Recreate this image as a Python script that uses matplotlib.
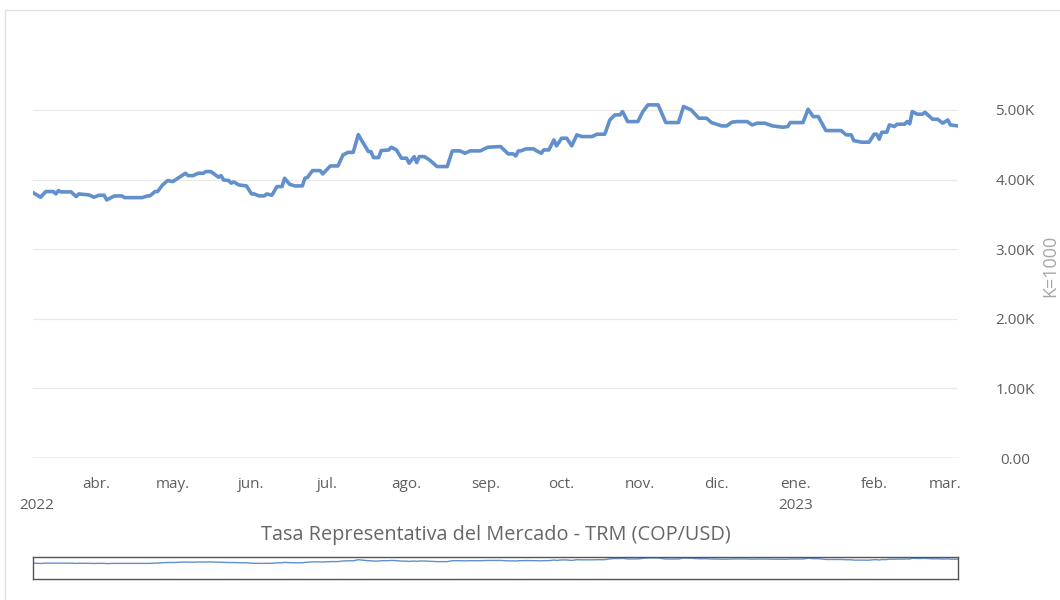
import matplotlib
matplotlib.use("Agg")
import matplotlib.pyplot as plt
import matplotlib.transforms as mtransforms
from matplotlib.lines import Line2D
import pandas as pd

plt.rcParams['font.family'] = ['Open Sans', 'DejaVu Sans']

# -----------------------------------------------------------------------------
# Data
# -----------------------------------------------------------------------------
dates = [
    "2022-03-07", "2022-03-10", "2022-03-12", "2022-03-15", "2022-03-16", "2022-03-17",
    "2022-03-18", "2022-03-22", "2022-03-24", "2022-03-25", "2022-03-29", "2022-03-31",
    "2022-04-02", "2022-04-04", "2022-04-05", "2022-04-08", "2022-04-11", "2022-04-12",
    "2022-04-19", "2022-04-21", "2022-04-22", "2022-04-24", "2022-04-25", "2022-04-27",
    "2022-04-29", "2022-05-01", "2022-05-03", "2022-05-06", "2022-05-07", "2022-05-09",
    "2022-05-11", "2022-05-13", "2022-05-14", "2022-05-16", "2022-05-19", "2022-05-20",
    "2022-05-21", "2022-05-23", "2022-05-24", "2022-05-25", "2022-05-27", "2022-05-30",
    "2022-06-01", "2022-06-02", "2022-06-04", "2022-06-06", "2022-06-07", "2022-06-09",
    "2022-06-11", "2022-06-13", "2022-06-14", "2022-06-16", "2022-06-18", "2022-06-21",
    "2022-06-22", "2022-06-23", "2022-06-25", "2022-06-28", "2022-06-29", "2022-07-02",
    "2022-07-05", "2022-07-07", "2022-07-09", "2022-07-11", "2022-07-13", "2022-07-15",
    "2022-07-17", "2022-07-18", "2022-07-19", "2022-07-21", "2022-07-22", "2022-07-25",
    "2022-07-26", "2022-07-28", "2022-07-30", "2022-08-01", "2022-08-02", "2022-08-04",
    "2022-08-05", "2022-08-06", "2022-08-08", "2022-08-10", "2022-08-13", "2022-08-17",
    "2022-08-19", "2022-08-22", "2022-08-24", "2022-08-26", "2022-08-30", "2022-09-02",
    "2022-09-07", "2022-09-10", "2022-09-12", "2022-09-13", "2022-09-14", "2022-09-15",
    "2022-09-17", "2022-09-20", "2022-09-21", "2022-09-23", "2022-09-24", "2022-09-26",
    "2022-09-28", "2022-09-29", "2022-10-01", "2022-10-03", "2022-10-05", "2022-10-07",
    "2022-10-09", "2022-10-13", "2022-10-15", "2022-10-18", "2022-10-20", "2022-10-22",
    "2022-10-24", "2022-10-25", "2022-10-27", "2022-10-31", "2022-11-02", "2022-11-04",
    "2022-11-08", "2022-11-11", "2022-11-16", "2022-11-18", "2022-11-21", "2022-11-24",
    "2022-11-27", "2022-11-29", "2022-12-03", "2022-12-05", "2022-12-07", "2022-12-09",
    "2022-12-13", "2022-12-15", "2022-12-17", "2022-12-20", "2022-12-23", "2022-12-27",
    "2022-12-29", "2022-12-30", "2023-01-04", "2023-01-06", "2023-01-08", "2023-01-10",
    "2023-01-13", "2023-01-19", "2023-01-21", "2023-01-23", "2023-01-24", "2023-01-27",
    "2023-01-30", "2023-02-01", "2023-02-02", "2023-02-03", "2023-02-04", "2023-02-06",
    "2023-02-07", "2023-02-09", "2023-02-10", "2023-02-13", "2023-02-14", "2023-02-15",
    "2023-02-16", "2023-02-18", "2023-02-20", "2023-02-21", "2023-02-24", "2023-02-26",
    "2023-02-28", "2023-03-02", "2023-03-03", "2023-03-06",
]
trm = [
    3812, 3745, 3827, 3827, 3793, 3841,
    3822, 3822, 3755, 3793, 3779, 3745,
    3774, 3774, 3707, 3764, 3764, 3740,
    3740, 3764, 3764, 3827, 3827, 3922,
    3985, 3970, 4018, 4090, 4056, 4056,
    4090, 4090, 4114, 4114, 4033, 4056,
    3994, 3985, 3947, 3966, 3922, 3908,
    3793, 3793, 3764, 3764, 3793, 3774,
    3898, 3898, 4018, 3932, 3908, 3908,
    4018, 4030, 4128, 4128, 4080, 4195,
    4195, 4353, 4390, 4390, 4645, 4521,
    4401, 4401, 4315, 4315, 4415, 4425,
    4464, 4425, 4306, 4306, 4234, 4329,
    4243, 4329, 4329, 4282, 4186, 4186,
    4411, 4411, 4377, 4411, 4411, 4464,
    4473, 4368, 4368, 4339, 4411, 4411,
    4440, 4440, 4415, 4377, 4425, 4425,
    4569, 4483, 4593, 4593, 4483, 4641,
    4617, 4617, 4651, 4651, 4856, 4928,
    4928, 4976, 4832, 4832, 4976, 5072,
    5072, 4818, 4818, 5048, 5000, 4881,
    4881, 4818, 4770, 4770, 4823, 4832,
    4832, 4784, 4809, 4809, 4770, 4751,
    4760, 4818, 4818, 5010, 4904, 4904,
    4703, 4703, 4641, 4641, 4559, 4536,
    4536, 4651, 4651, 4579, 4679, 4679,
    4784, 4761, 4794, 4794, 4832, 4800,
    4976, 4938, 4938, 4966, 4866, 4866,
    4809, 4856, 4784, 4770,
]
y_ticks = [0, 1000, 2000, 3000, 4000, 5000]
y_tick_labels = ["0.00", "1.00K", "2.00K", "3.00K", "4.00K", "5.00K"]
month_labels = ["abr.", "may.", "jun.", "jul.", "ago.", "sep.",
                "oct.", "nov.", "dic.", "ene.", "feb.", "mar."]
year_labels = ["2022", "2023"]
title = "Tasa Representativa del Mercado - TRM (COP/USD)"

x = pd.to_datetime(dates)

LINE = "#6190cc"
TICK = "#605e5c"
GRID = "#e9e9e9"
FS = 11

W, H = 1060, 600
fig = plt.figure(figsize=(W / 100, H / 100), dpi=100)

# -----------------------------------------------------------------------------
# Main plot
# -----------------------------------------------------------------------------
ax_l, ax_r, ax_b, ax_t = 33, 958, 458, 89
ax = fig.add_axes([ax_l / W, 1 - ax_b / H, (ax_r - ax_l) / W, (ax_b - ax_t) / H])
ax.plot(x, trm, color=LINE, lw=2.6, solid_joinstyle="round")
ax.set_xlim(x[0], x[-1])
ax.set_ylim(0, 5300)

for s in ax.spines.values():
    s.set_visible(False)
ax.axhline(0, color="#bdbdbd", lw=1.0, zorder=1)
ax.set_yticks(y_ticks)
ax.set_yticklabels(y_tick_labels)
ax.yaxis.tick_right()
ax.tick_params(axis="y", length=0, pad=41, labelsize=FS, labelcolor=TICK)
for lbl in ax.get_yticklabels():
    lbl.set_ha("center")
ax.grid(axis="y", color=GRID, lw=0.9)
ax.set_axisbelow(True)

month_starts = pd.date_range("2022-04-01", "2023-03-01", freq="MS")
ax.set_xticks(month_starts)
ax.set_xticklabels(month_labels)
ax.tick_params(axis="x", length=0, pad=14, labelsize=FS, labelcolor=TICK)

trans = mtransforms.blended_transform_factory(ax.transData, ax.transAxes)
ax.text(x[0] + pd.Timedelta(days=1.5), -0.13, year_labels[0], transform=trans,
        ha="center", va="center", fontsize=FS, color=TICK)
ax.text(pd.Timestamp("2023-01-01"), -0.13, year_labels[1], transform=trans,
        ha="center", va="center", fontsize=FS, color=TICK)

ax.yaxis.set_label_position("right")
ax.set_ylabel("K=1000", color="#a6a6a6", fontsize=13, rotation=90)
ax.yaxis.set_label_coords((1041 - ax_l) / (ax_r - ax_l), 0.52)

fig.text((ax_l + ax_r) / 2 / W, 1 - 535 / H, title, ha="center", va="center",
         fontsize=14.3, color="#666666")

# -----------------------------------------------------------------------------
# Navigator strip
# -----------------------------------------------------------------------------
nb, nt = 579, 557
nav = fig.add_axes([ax_l / W, 1 - nb / H, (ax_r - ax_l) / W, (nb - nt) / H])
nav.plot(x, trm, color=LINE, lw=1.0)
nav.set_xlim(x[0], x[-1])
nav.set_ylim(0, 5300)
nav.set_xticks([])
nav.set_yticks([])
for s in nav.spines.values():
    s.set_color("#555555")
    s.set_linewidth(1.0)

# light frame of the visual container (top and left edges)
fig.add_artist(Line2D([5 / W, 5 / W], [0, 1 - 10 / H], color="#e3e3e3", lw=1.0))
fig.add_artist(Line2D([5 / W, 1], [1 - 10 / H, 1 - 10 / H], color="#e3e3e3", lw=1.0))

fig.savefig("out.png", dpi=100)
